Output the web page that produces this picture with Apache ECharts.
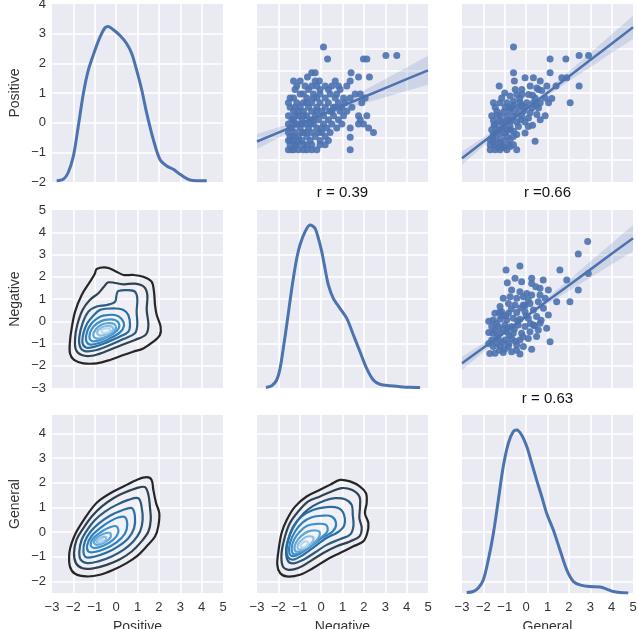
<!DOCTYPE html>
<html><head><meta charset="utf-8">
<script src="https://cdn.jsdelivr.net/npm/echarts@6/dist/echarts.min.js"></script>
<style>html,body{margin:0;padding:0;background:#fff}#c{width:638px;height:629px}</style>
</head><body><div id="c"></div>
<script>
const varNames = ['Positive', 'Negative', 'General'];
const rLabels = ['r = 0.39', 'r =0.66', 'r = 0.63'];

// diagonal density curves (in each panel's own y units)
const posKde = [[-2.78,-1.96],[-2.47,-1.91],[-2.24,-1.68],[-2.0,-1.13],[-1.77,-0.12],[-1.53,0.99],[-1.30,1.77],[-0.99,2.44],[-0.75,2.89],[-0.52,3.20],[-0.37,3.24],[-0.13,3.13],[0.18,2.94],[0.49,2.67],[0.73,2.33],[0.96,1.77],[1.20,1.10],[1.43,0.32],[1.74,-0.57],[2.05,-1.24],[2.37,-1.46],[2.68,-1.57],[2.99,-1.74],[3.46,-1.93],[4.24,-1.96]];
const negKde = [[-2.58,-2.98],[-2.31,-2.90],[-2.08,-2.64],[-1.92,-2.12],[-1.77,-1.22],[-1.61,-0.17],[-1.46,0.88],[-1.30,1.93],[-1.14,2.83],[-0.99,3.43],[-0.75,4.03],[-0.52,4.33],[-0.29,4.18],[-0.13,3.73],[0.03,3.13],[0.18,2.38],[0.34,1.63],[0.57,1.03],[0.88,0.58],[1.20,0.13],[1.51,-0.62],[1.82,-1.37],[2.13,-2.12],[2.44,-2.64],[2.75,-2.83],[3.22,-2.90],[3.69,-2.94],[4.16,-2.97],[4.63,-2.98]];
const genKde = [[-2.78,-2.45],[-2.47,-2.41],[-2.24,-2.27],[-2.0,-1.93],[-1.77,-1.13],[-1.53,-0.05],[-1.30,1.30],[-1.07,2.65],[-0.83,3.60],[-0.60,4.07],[-0.44,4.13],[-0.21,3.93],[0.03,3.46],[0.26,2.79],[0.49,2.11],[0.73,1.44],[0.96,0.76],[1.27,0.09],[1.58,-0.72],[1.90,-1.53],[2.21,-2.0],[2.52,-2.14],[2.99,-2.21],[3.46,-2.23],[3.77,-2.31],[4.08,-2.41],[4.39,-2.45],[4.78,-2.47]];

// scatter points [x, y]
const negPosPts = [[0.11,3.07],[0.30,2.53],[1.98,2.53],[2.14,2.53],[3.03,2.68],[3.54,2.68],
[-0.44,1.91],[-0.28,1.91],[1.40,1.91],[-0.64,1.72],[1.75,1.72],[2.26,1.72],
[-1.29,1.54],[-0.98,1.54],[-0.28,1.54],[-0.08,1.54],[0.66,1.54],[1.36,1.54],
[-1.14,1.31],[-0.75,1.31],[-0.20,1.31],[0.19,1.31],[0.50,1.31],[0.81,1.31],[1.20,1.31],
[-1.22,1.16],[-0.59,1.16],[-0.05,1.16],[0.34,1.16],[0.89,1.16],
[-0.98,0.96],[-0.83,0.96],[-0.36,0.96],[-0.05,0.96],[0.42,0.96],[0.73,0.96],[1.59,0.96],[1.83,0.96],
[-1.29,0.78],[-0.67,0.78],[-0.20,0.78],[0.19,0.78],[0.66,0.78],[1.05,0.78],[1.36,0.78],[2.06,0.78],
[-1.53,0.56],[-1.14,0.56],[-0.83,0.56],[-0.44,0.56],[-0.05,0.56],[0.34,0.56],[0.81,0.56],[1.12,0.56],[1.90,0.56],
[-1.45,0.36],[-0.98,0.36],[-0.59,0.36],[-0.20,0.36],[0.19,0.36],[0.66,0.36],[0.97,0.36],[1.44,0.36],
[-1.29,0.18],[-0.83,0.18],[-0.44,0.18],[0.03,0.18],[0.42,0.18],[0.89,0.18],[1.20,0.18],
[-1.53,-0.02],[-1.06,-0.02],[-0.67,-0.02],[-0.28,-0.02],[0.11,-0.02],[0.58,-0.02],[1.05,-0.02],[1.75,-0.02],[2.14,-0.02],
[-1.37,-0.20],[-0.90,-0.20],[-0.51,-0.20],[-0.12,-0.20],[0.34,-0.20],[0.81,-0.20],[1.83,-0.20],
[-1.53,-0.39],[-1.14,-0.39],[-0.75,-0.39],[-0.36,-0.39],[0.11,-0.39],[0.50,-0.39],[0.97,-0.39],[1.75,-0.39],[1.98,-0.39],
[-1.45,-0.57],[-0.98,-0.57],[-0.59,-0.57],[-0.20,-0.57],[0.27,-0.57],[0.73,-0.57],[1.36,-0.57],[2.22,-0.57],
[-1.53,-0.77],[-1.22,-0.77],[-0.83,-0.77],[-0.44,-0.77],[0.03,-0.77],[0.42,-0.77],[2.45,-0.77],
[-1.45,-0.95],[-1.06,-0.95],[-0.67,-0.95],[-0.28,-0.95],[0.19,-0.95],[1.36,-0.99],
[-1.53,-1.14],[-1.29,-1.14],[-0.90,-1.14],[-0.51,-1.14],[-0.05,-1.14],[0.34,-1.14],
[-1.45,-1.33],[-1.14,-1.33],[-0.83,-1.33],[-0.44,-1.33],[-0.05,-1.33],[0.19,-1.33],
[-1.53,-1.55],[-1.29,-1.55],[-1.06,-1.55],[-0.83,-1.55],[-0.44,-1.55],[-0.20,-1.55],[1.36,-1.55],
[-1.29,-0.20],[-0.67,0.56],[-1.06,0.18],[-0.36,-0.20],[-1.22,-0.39],[-0.67,-0.77],[-1.06,-1.14],[-0.67,-1.33],[-0.67,-1.55],[-1.29,-0.95],[-0.83,-0.02],[-0.20,0.18],[0.03,-0.57],[-1.45,0.78],[-0.44,1.31],[-1.37,-1.55],[-1.22,-1.33],[0.58,0.36],
[-1.37,-0.57],[-0.90,-0.39],[-0.51,-0.39],[-1.22,0.36],[-0.36,0.78],[-0.12,-0.77],[-0.90,-0.77],[-1.45,-1.14],[-1.22,-0.02],[0.50,0.18]];

const genPosPts = [[-0.59,3.07],[1.12,2.53],[1.86,2.53],[2.48,2.68],[2.92,2.68],
[-0.59,1.91],[1.12,1.91],[-0.55,1.54],[-0.05,1.69],[0.34,1.69],[0.66,1.54],[1.67,1.69],[1.90,1.69],
[-1.26,1.31],[0.19,1.31],[0.50,1.23],[0.97,1.31],[2.48,1.31],[-0.51,1.16],[0.58,1.16],[0.73,1.11],
[-1.14,0.78],[-0.75,0.86],[-0.44,0.93],[-0.20,0.93],[0.11,0.93],[0.42,0.78],[0.89,0.78],[1.20,0.75],
[-1.53,0.56],[-1.22,0.56],[-0.90,0.56],[-0.59,0.63],[-0.28,0.56],[0.03,0.56],[0.34,0.56],[0.66,0.56],[1.05,0.56],[2.06,0.56],
[-1.45,0.36],[-0.98,0.36],[-0.67,0.33],[-0.36,0.36],[-0.05,0.36],[0.27,0.33],[0.58,0.33],
[-1.37,0.18],[-1.06,0.15],[-0.75,0.18],[-0.44,0.11],[-0.12,0.18],[0.19,0.11],[0.50,0.03],[0.89,-0.02],
[-1.61,-0.02],[-1.22,-0.05],[-0.90,-0.05],[-0.59,-0.05],[-0.20,-0.05],[0.11,-0.12],[0.66,-0.20],
[-1.53,-0.24],[-1.14,-0.27],[-0.83,-0.24],[-0.44,-0.30],[-0.05,-0.30],
[-1.45,-0.42],[-1.06,-0.50],[-0.75,-0.50],[-0.36,-0.50],
[-1.61,-0.65],[-1.29,-0.65],[-0.90,-0.69],[-0.59,-0.72],[-0.05,-0.80],
[-1.53,-0.87],[-1.22,-0.87],[-0.90,-0.95],[-0.44,-0.87],
[-1.68,-1.10],[-1.37,-1.10],[-1.06,-1.14],[-0.75,-1.10],[0.42,-1.17],
[-1.68,-1.33],[-1.45,-1.33],[-1.14,-1.36],[-0.83,-1.33],[-0.59,-1.33],
[-1.68,-1.55],[-1.45,-1.55],[-1.22,-1.55],[-0.90,-1.55],[-0.44,-1.55],
[-1.30,-0.30],[-0.98,-0.30],[-1.20,-1.20],[-1.00,-0.80],[-0.70,-0.25],[-1.50,-0.45],[-0.30,0.75],[-1.40,-0.75],[-0.60,-0.95],[-1.55,-1.20],[-0.80,0.35],[0.30,0.90],[-0.20,1.16],[-1.00,1.00],[1.40,1.31],[0.10,-0.50],[-0.25,-0.20],[0.30,-0.45],
[-1.30,-1.45],[-1.05,-1.45],[-0.75,-1.40],[-1.55,-0.95],[-1.15,-0.60],[-0.75,-0.65],[-1.35,0.00],[-0.60,0.45],[-0.20,0.45],[0.45,0.45]];

const genNegPts = [[2.88,3.58],[2.44,3.02],[-0.94,2.30],[-0.29,2.48],[1.58,2.30],[2.91,2.15],
[-0.52,1.93],[-0.88,1.73],[-0.21,1.78],[0.26,1.93],[0.26,1.70],[0.80,1.85],[1.90,1.85],
[-0.68,1.40],[-0.29,1.33],[0.03,1.25],[0.65,1.48],[1.04,1.40],[2.44,1.40],
[-1.07,1.03],[-0.75,1.10],[-0.44,1.03],[-0.13,1.10],[0.26,1.18],[0.65,1.18],[0.89,1.03],
[-1.22,0.66],[-0.83,0.80],[-0.52,0.73],[-0.13,0.73],[0.18,0.80],[0.57,0.88],[1.43,0.88],[2.05,0.88],
[-1.46,0.36],[-1.15,0.43],[-0.83,0.36],[-0.44,0.39],[-0.05,0.43],[0.34,0.51],[0.81,0.58],
[-1.54,0.06],[-1.22,0.09],[-0.91,0.06],[-0.60,0.13],[-0.29,0.09],[0.10,0.13],[0.49,0.21],[1.04,0.28],
[-1.61,-0.24],[-1.30,-0.24],[-0.99,-0.17],[-0.68,-0.24],[-0.37,-0.17],[-0.05,-0.24],[0.34,-0.17],[0.65,-0.09],
[-1.54,-0.54],[-1.22,-0.54],[-0.91,-0.47],[-0.60,-0.54],[-0.21,-0.54],[0.18,-0.47],[0.57,-0.39],[0.96,-0.32],
[-1.61,-0.84],[-1.30,-0.81],[-0.99,-0.84],[-0.68,-0.77],[-0.29,-0.84],[0.10,-0.77],[0.49,-0.69],[1.12,-0.92],
[-1.54,-1.14],[-1.22,-1.11],[-0.83,-1.14],[-0.44,-1.07],[-0.13,-1.14],[0.26,-1.26],
[-1.46,-1.44],[-1.07,-1.41],[-0.68,-1.37],[-0.29,-1.47],
[-1.75,0.00],[-1.75,-0.50],[-1.75,-1.00],[-1.70,-1.45],
[-1.40,-0.10],[-1.10,-0.35],[-0.80,-0.65],[-1.35,-0.70],[-0.50,-0.90],[-1.00,-1.25],[-1.25,-1.30],[-0.85,-0.30],[-0.40,0.00],[-1.15,0.25],[-0.70,0.55],[0.00,0.25],[-0.15,-0.70],[0.40,-0.20],[0.70,0.05],[-0.25,0.60],[0.10,0.95],[0.45,1.55],
[-1.40,-1.00],[-1.10,-0.95],[-0.80,-1.00],[-1.45,-0.40],[-1.25,0.40],[-0.55,-0.35],[-0.45,-1.30],[-0.95,0.25],[0.20,-0.10],[-0.05,0.70]];

// regression fits with confidence band
const fitX = [-3, -2, -1, 0, 1, 2, 3, 4, 5];
const negPosFit = [-1.18, -0.78, -0.38, 0.02, 0.42, 0.82, 1.22, 1.62, 2.02];
const negPosLo  = [-1.52, -1.02, -0.51, -0.08, 0.24, 0.53, 0.81, 1.09, 1.37];
const negPosHi  = [-0.84, -0.54, -0.25, 0.12, 0.60, 1.11, 1.63, 2.15, 2.67];
const genPosFit = [-1.93, -1.195, -0.46, 0.275, 1.01, 1.745, 2.48, 3.215, 3.95];
const genPosLo  = [-2.23, -1.395, -0.56, 0.195, 0.87, 1.525, 2.16, 2.795, 3.43];
const genPosHi  = [-1.63, -0.995, -0.36, 0.355, 1.15, 1.965, 2.80, 3.635, 4.47];
const genNegFit = [-1.89, -1.19, -0.49, 0.21, 0.92, 1.62, 2.32, 3.03, 3.73];
const genNegLo  = [-2.19, -1.39, -0.59, 0.13, 0.77, 1.37, 1.96, 2.55, 3.13];
const genNegHi  = [-1.59, -0.99, -0.39, 0.29, 1.07, 1.87, 2.68, 3.51, 4.33];

// bivariate density contours, outer to inner, [x, y] outlines
const posNegContours = [
[[-0.91,2.35],[-0.44,2.41],[-0.05,2.26],[0.34,2.08],[0.80,2.08],[1.27,2.00],[1.66,1.78],[1.77,1.33],[1.82,0.73],[1.90,0.28],[2.08,-0.24],[2.05,-0.62],[1.74,-0.92],[1.27,-1.22],[0.80,-1.37],[0.34,-1.52],[-0.29,-1.74],[-0.91,-1.89],[-1.53,-1.89],[-1.97,-1.74],[-2.16,-1.44],[-2.16,-0.92],[-2.08,-0.32],[-1.92,0.43],[-1.61,1.18],[-1.22,1.78],[-0.99,2.15]],
[[-0.37,1.75],[0.34,1.66],[0.88,1.69],[1.30,1.55],[1.46,1.18],[1.43,0.51],[1.51,-0.17],[1.40,-0.59],[0.88,-0.84],[0.18,-1.10],[-0.52,-1.37],[-1.14,-1.55],[-1.61,-1.52],[-1.88,-1.29],[-1.92,-0.77],[-1.82,-0.17],[-1.57,0.51],[-1.23,0.96],[-0.83,1.26],[-0.57,1.55]],
[[0.10,1.36],[0.57,1.40],[0.88,1.33],[0.99,1.03],[0.96,0.43],[0.99,-0.17],[0.88,-0.54],[0.34,-0.80],[-0.29,-1.07],[-0.91,-1.29],[-1.46,-1.34],[-1.69,-1.14],[-1.72,-0.69],[-1.57,-0.09],[-1.30,0.43],[-0.91,0.66],[-0.44,0.73],[-0.05,0.88],[0.02,1.18]],
[[-0.75,0.51],[-0.13,0.58],[0.34,0.51],[0.57,0.28],[0.65,-0.17],[0.57,-0.47],[0.18,-0.69],[-0.44,-0.95],[-0.99,-1.14],[-1.38,-1.19],[-1.57,-0.99],[-1.53,-0.54],[-1.35,-0.09],[-1.07,0.25]],
[[-0.60,0.25],[-0.05,0.28],[0.26,0.10],[0.37,-0.20],[0.18,-0.50],[-0.29,-0.77],[-0.83,-0.99],[-1.25,-1.04],[-1.41,-0.84],[-1.35,-0.44],[-1.14,-0.09],[-0.88,0.13]],
[[-0.52,0.06],[-0.05,0.06],[0.15,-0.17],[0.02,-0.44],[-0.37,-0.69],[-0.83,-0.87],[-1.14,-0.89],[-1.25,-0.69],[-1.14,-0.35],[-0.88,-0.09]],
[[-0.44,-0.09],[-0.10,-0.12],[-0.01,-0.32],[-0.21,-0.54],[-0.60,-0.74],[-0.94,-0.77],[-1.07,-0.62],[-0.94,-0.35],[-0.71,-0.17]],
[[-0.44,-0.21],[-0.18,-0.26],[-0.16,-0.41],[-0.41,-0.56],[-0.72,-0.65],[-0.88,-0.54],[-0.79,-0.35]],
[[-0.47,-0.32],[-0.29,-0.35],[-0.32,-0.47],[-0.57,-0.53],[-0.68,-0.47],[-0.63,-0.36]]
];
const posGenContours = [
[[1.43,2.22],[1.66,2.11],[1.74,1.71],[1.87,1.17],[2.02,0.76],[1.97,0.22],[1.82,-0.18],[1.43,-0.58],[0.96,-0.99],[0.49,-1.26],[-0.13,-1.53],[-0.75,-1.73],[-1.38,-1.80],[-1.92,-1.69],[-2.16,-1.40],[-2.19,-0.85],[-2.08,-0.45],[-1.85,0.02],[-1.46,0.56],[-1.07,1.03],[-0.75,1.30],[-0.13,1.64],[0.49,1.91],[0.96,2.11]],
[[1.35,1.82],[1.51,1.51],[1.58,1.03],[1.62,0.49],[1.51,0.02],[1.19,-0.38],[0.73,-0.79],[0.18,-1.10],[-0.44,-1.33],[-1.07,-1.47],[-1.57,-1.47],[-1.88,-1.26],[-1.97,-0.85],[-1.85,-0.31],[-1.53,0.16],[-1.14,0.63],[-0.68,1.03],[-0.13,1.37],[0.41,1.60],[0.96,1.78]],
[[1.04,1.37],[1.19,1.03],[1.24,0.49],[1.12,0.02],[0.80,-0.38],[0.34,-0.72],[-0.21,-0.99],[-0.83,-1.19],[-1.35,-1.26],[-1.66,-1.12],[-1.72,-0.79],[-1.61,-0.31],[-1.35,0.09],[-0.99,0.49],[-0.52,0.83],[0.02,1.10],[0.57,1.30]],
[[0.73,0.97],[0.88,0.63],[0.84,0.16],[0.57,-0.25],[0.10,-0.58],[-0.44,-0.83],[-0.99,-0.99],[-1.41,-1.02],[-1.53,-0.79],[-1.46,-0.38],[-1.19,0.02],[-0.79,0.36],[-0.29,0.66],[0.26,0.87]],
[[0.41,0.60],[0.52,0.29],[0.41,-0.07],[0.02,-0.42],[-0.52,-0.68],[-1.02,-0.81],[-1.30,-0.79],[-1.35,-0.52],[-1.14,-0.15],[-0.75,0.16],[-0.29,0.43],[0.10,0.59]],
[[0.02,0.23],[0.10,-0.02],[-0.13,-0.31],[-0.60,-0.56],[-1.02,-0.65],[-1.19,-0.54],[-1.07,-0.25],[-0.71,0.00],[-0.29,0.19]],
[[-0.29,-0.04],[-0.26,-0.21],[-0.52,-0.41],[-0.88,-0.52],[-1.04,-0.42],[-0.88,-0.21],[-0.57,-0.07]],
[[-0.47,-0.21],[-0.50,-0.34],[-0.79,-0.45],[-0.91,-0.38],[-0.75,-0.25]],
[[-0.62,-0.30],[-0.66,-0.37],[-0.80,-0.40],[-0.78,-0.33]]
];
const negGenContours = [
[[0.88,2.11],[1.35,2.05],[1.82,1.84],[2.10,1.57],[2.13,1.17],[2.05,0.76],[2.21,0.36],[2.16,-0.04],[1.97,-0.38],[1.51,-0.58],[0.88,-0.85],[0.26,-1.12],[-0.37,-1.46],[-0.99,-1.73],[-1.61,-1.80],[-1.92,-1.66],[-2.05,-1.33],[-2.00,-0.79],[-1.85,-0.04],[-1.61,0.49],[-1.22,1.03],[-0.68,1.44],[-0.05,1.71],[0.41,1.91]],
[[0.96,1.78],[1.43,1.71],[1.79,1.44],[1.82,1.03],[1.79,0.56],[1.90,0.16],[1.79,-0.18],[1.35,-0.38],[0.73,-0.58],[0.10,-0.85],[-0.52,-1.19],[-1.07,-1.46],[-1.53,-1.53],[-1.80,-1.37],[-1.85,-0.85],[-1.69,-0.18],[-1.46,0.36],[-1.07,0.83],[-0.60,1.24],[-0.05,1.44],[0.49,1.64]],
[[0.65,1.37],[1.12,1.33],[1.43,1.10],[1.48,0.70],[1.51,0.23],[1.35,-0.11],[0.88,-0.29],[0.26,-0.52],[-0.29,-0.83],[-0.83,-1.12],[-1.30,-1.27],[-1.57,-1.14],[-1.63,-0.65],[-1.46,-0.11],[-1.18,0.36],[-0.80,0.77],[-0.37,1.06],[0.18,1.28]],
[[0.26,1.01],[0.80,0.97],[1.07,0.70],[1.07,0.25],[0.76,-0.02],[0.23,-0.25],[-0.29,-0.58],[-0.83,-0.92],[-1.30,-1.12],[-1.55,-1.02],[-1.62,-0.72],[-1.52,-0.25],[-1.30,0.23],[-0.91,0.63],[-0.36,0.90]],
[[0.02,0.66],[0.49,0.63],[0.70,0.33],[0.54,0.02],[0.02,-0.25],[-0.49,-0.58],[-0.99,-0.88],[-1.33,-0.98],[-1.49,-0.85],[-1.46,-0.45],[-1.22,0.02],[-0.86,0.39],[-0.44,0.60]],
[[-0.21,0.33],[0.23,0.29],[0.29,0.02],[-0.05,-0.25],[-0.52,-0.58],[-0.96,-0.83],[-1.27,-0.90],[-1.38,-0.69],[-1.27,-0.31],[-0.99,0.02],[-0.65,0.25]],
[[-0.44,0.06],[-0.08,0.01],[-0.13,-0.25],[-0.52,-0.56],[-0.91,-0.75],[-1.18,-0.79],[-1.24,-0.58],[-1.07,-0.29],[-0.75,-0.04]],
[[-0.65,-0.18],[-0.36,-0.23],[-0.49,-0.48],[-0.83,-0.68],[-1.07,-0.69],[-1.07,-0.48],[-0.86,-0.29]],
[[-0.75,-0.38],[-0.60,-0.42],[-0.71,-0.58],[-0.91,-0.62],[-0.96,-0.52]]
];
const contourColors = ['#262628', '#2f4252', '#2b5b7e', '#2a6ea0', '#2f80bf', '#3f92cc', '#5ea6d6', '#8abfe2', '#b8d8ee'];

// ---------- build option ----------
const BLUE = '#4C72B0';
const colL = [52, 257, 462], rowT = [4, 210, 415];
const fmt = v => Math.abs(v - Math.round(v)) < 1e-6 ? String(Math.round(v)).replace('-', '\u2212') : '';
const grids = [], xAxes = [], yAxes = [], series = [];
const rIdx = {'0_1': 0, '0_2': 1, '1_2': 2};
for (let r = 0; r < 3; r++) {
  for (let c = 0; c < 3; c++) {
    const i = r * 3 + c;
    grids.push({left: colL[c], top: rowT[r], width: 171, height: 178, show: true,
      backgroundColor: '#EAEAF2', borderWidth: 0, containLabel: false, outerBoundsMode: 'none'});
    const rk = r + '_' + c;
    let xName = '', xNameStyle = {}, xGap = 0;
    if (r === 2) { xName = varNames[c]; xNameStyle = {fontSize: 14, color: '#333'}; xGap = 27; }
    else if (rk in rIdx) { xName = rLabels[rIdx[rk]]; xNameStyle = {fontSize: 15, color: '#111', fontWeight: 500}; xGap = 3; }
    xAxes.push({type: 'value', gridIndex: i, min: -3, max: 5, interval: 1,
      axisLine: {show: false}, axisTick: {show: false},
      splitLine: {show: true, showMinLine: false, showMaxLine: false, lineStyle: {color: '#ffffff', width: 1.6}},
      axisLabel: {show: r === 2, formatter: fmt, color: '#333', fontSize: 13, margin: 8},
      name: xName, nameLocation: 'middle', nameGap: xGap, nameTextStyle: xNameStyle});
    const y = {type: 'value', gridIndex: i,
      axisLine: {show: false}, axisTick: {show: false},
      splitLine: {show: true, showMinLine: false, showMaxLine: false, lineStyle: {color: '#ffffff', width: 1.6}},
      axisLabel: {show: c === 0, formatter: fmt, color: '#333', fontSize: 13, margin: 6, showMinLabel: r === 2 ? false : true, showMaxLabel: r === 2 ? false : true},
      name: c === 0 ? varNames[r] : '', nameLocation: 'middle', nameGap: 30,
      nameTextStyle: {fontSize: 14, color: '#333'}};
    if (r === 0 && c === 0) { y.min = -2; y.max = 4; y.interval = 1; }
    else if (r < 2) { y.min = -3; y.max = 5; y.interval = 1; }
    else { y.min = -2.47; y.max = 4.74; y.minInterval = 1; y.maxInterval = 1; y.splitNumber = 7; }
    yAxes.push(y);
  }
}

function kdeSeries(i, data) {
  return {type: 'line', xAxisIndex: i, yAxisIndex: i, data: data, showSymbol: false, smooth: 0.3,
    lineStyle: {color: BLUE, width: 3}, silent: true};
}
function scatterSeries(i, data) {
  return {type: 'scatter', xAxisIndex: i, yAxisIndex: i, data: data, symbolSize: 7,
    itemStyle: {color: BLUE, opacity: 0.9}, silent: true};
}
function bandSeries(i, lo, hi) {
  return {type: 'custom', xAxisIndex: i, yAxisIndex: i, data: [[fitX[0], lo[0]]], silent: true,
    renderItem: (p, api) => {
      const top = fitX.map((x, k) => api.coord([x, hi[k]]));
      const bot = fitX.map((x, k) => api.coord([x, lo[k]])).reverse();
      return {type: 'polygon', shape: {points: top.concat(bot)}, style: {fill: 'rgba(76,114,176,0.18)'}};
    }};
}
function fitSeries(i, fy) {
  return {type: 'line', xAxisIndex: i, yAxisIndex: i, data: fitX.map((x, k) => [x, fy[k]]),
    showSymbol: false, lineStyle: {color: BLUE, width: 2.5}, silent: true};
}
function contourSeries(i, shapes) {
  return {type: 'custom', xAxisIndex: i, yAxisIndex: i, data: shapes.map(s => s[0]), silent: true,
    renderItem: (p, api) => {
      const k = p.dataIndex;
      const pts = shapes[k].map(q => api.coord(q));
      return {type: 'polygon', shape: {points: pts, smooth: 0.35},
        style: {fill: 'rgba(255,255,255,0.10)', stroke: contourColors[k], lineWidth: 2.2}};
    }};
}

series.push(kdeSeries(0, posKde), kdeSeries(4, negKde), kdeSeries(8, genKde));
series.push(scatterSeries(1, negPosPts), bandSeries(1, negPosLo, negPosHi), fitSeries(1, negPosFit));
series.push(scatterSeries(2, genPosPts), bandSeries(2, genPosLo, genPosHi), fitSeries(2, genPosFit));
series.push(scatterSeries(5, genNegPts), bandSeries(5, genNegLo, genNegHi), fitSeries(5, genNegFit));
series.push(contourSeries(3, posNegContours), contourSeries(6, posGenContours), contourSeries(7, negGenContours));

const chart = echarts.init(document.getElementById('c'), null, {renderer: 'canvas'});
chart.setOption({
  animation: false,
  backgroundColor: '#ffffff',
  textStyle: {fontFamily: '"Liberation Sans", Arial, Helvetica, sans-serif'},
  grid: grids, xAxis: xAxes, yAxis: yAxes, series: series
});
</script></body></html>
